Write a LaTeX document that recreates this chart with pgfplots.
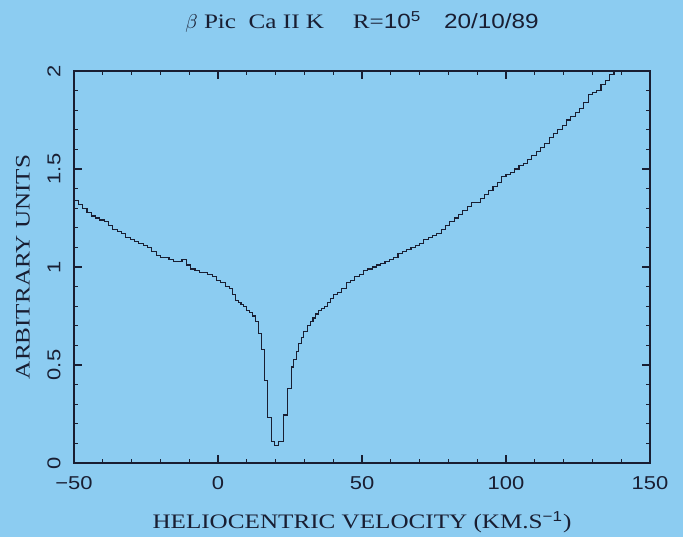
\documentclass[border=0pt]{standalone}
\usepackage{fontspec}
\setmainfont[FakeStretch=1.22]{Liberation Serif}
\setsansfont[FakeStretch=1.18]{Liberation Sans}
\usepackage{pgfplots}
\pgfplotsset{compat=1.18}
\definecolor{bg}{RGB}{140,204,241}
\definecolor{ink}{RGB}{25,30,50}
\begin{document}
\begin{tikzpicture}
\useasboundingbox (0,0) rectangle (341.5pt,268.5pt);
\fill[bg] (0,0) rectangle (341.5pt,268.5pt);
\begin{axis}[
  at={(37pt,37pt)}, anchor=south west,
  width=288pt, height=196pt, scale only axis,
  xmin=-50, xmax=150, ymin=0, ymax=2,
  xtick={-50,0,50,100,150},
  xticklabels={−50,0,50,100,150},
  ytick={0,0.5,1,1.5,2},
  yticklabels={0,0.5,1,1.5,2},
  minor x tick num=4, minor y tick num=4,
  tick align=inside,
  major tick length=4pt, minor tick length=2pt,
  axis line style={ink, line width=0.9pt},
  every tick/.style={ink, line width=0.6pt},
  tick label style={font=\sffamily\fontsize{9.3}{11}\selectfont, text=ink},
  xticklabel style={anchor=center, yshift=-10pt},
  yticklabel style={rotate=90, anchor=center, yshift=10pt},
  title={$\beta$ Pic\ \ Ca II K\hspace{1.4em}R=\textsf{10\textsuperscript{5}}\hspace{1.1em}\textsf{20/10/89}},
  title style={at={(0.5,1)}, anchor=center, yshift=18.5pt, font=\fontsize{10.3}{12}\selectfont, text=ink},
  xlabel={HELIOCENTRIC VELOCITY (KM.S\textsuperscript{\textsf{−1}})},
  xlabel style={at={(0.5,0)}, anchor=center, yshift=-29.5pt, font=\fontsize{10.3}{12}\selectfont, text=ink},
  ylabel={ARBITRARY UNITS},
  ylabel style={at={(0,0.5)}, anchor=center, yshift=25.5pt, font=\fontsize{10.3}{12}\selectfont, text=ink},
  axis background/.style={fill=none},
]
\addplot[const plot, ink, line width=0.55pt] table {
x y
-50 1.34
-48.5 1.32
-47 1.30
-45.5 1.28
-44 1.26
-42.5 1.25
-41 1.24
-39.5 1.23
-38 1.21
-36.5 1.19
-35 1.18
-33.5 1.17
-32 1.15
-30.5 1.14
-29 1.13
-27.5 1.12
-26 1.11
-24.5 1.10
-23 1.08
-21.5 1.06
-20 1.05
-18.5 1.05
-17 1.04
-15.5 1.03
-14 1.03
-12.5 1.04
-11 1.01
-9.5 0.99
-8 0.98
-6.5 0.97
-5 0.97
-3.5 0.96
-2 0.95
-0.5 0.93
1 0.92
2.5 0.90
4 0.89
5 0.86
6 0.83
7 0.82
8 0.81
9 0.80
10 0.78
11 0.77
12 0.75
13 0.72
14 0.66
15 0.58
16 0.42
17.2 0.23
18.5 0.11
19.5 0.09
21.1 0.11
22.6 0.245
24.2 0.38
25.4 0.49
26.3 0.53
27.2 0.57
28.1 0.61
29 0.64
29.8 0.67
31 0.70
32 0.72
33 0.74
34 0.76
35 0.78
36 0.79
37 0.80
38 0.82
39 0.84
40 0.86
41.5 0.87
43 0.89
44.5 0.92
46 0.93
47.5 0.95
49 0.96
50.5 0.98
52 0.99
53.5 1.00
55 1.01
56.5 1.02
58 1.03
59.5 1.04
61 1.05
62.5 1.07
64 1.08
65.5 1.09
67 1.10
68.5 1.11
70 1.12
71.5 1.14
73 1.15
74.5 1.16
76 1.17
77.5 1.19
79 1.21
80.5 1.23
82 1.25
83.5 1.27
85 1.29
86.5 1.31
88 1.33
89.5 1.33
91 1.35
92.5 1.37
94 1.39
95.5 1.41
97 1.43
98.5 1.46
100 1.47
101.5 1.48
103 1.50
104.5 1.52
106 1.53
107.5 1.55
109 1.57
110.5 1.59
112 1.61
113.5 1.63
115 1.66
116.5 1.68
118 1.70
119.5 1.72
121 1.75
122.5 1.77
124 1.79
125.5 1.81
127 1.84
128.5 1.88
130 1.89
131.5 1.90
133 1.93
134.5 1.95
136 1.98
137.5 2.01
139 2.04
};
\end{axis}
\end{tikzpicture}
\end{document}
